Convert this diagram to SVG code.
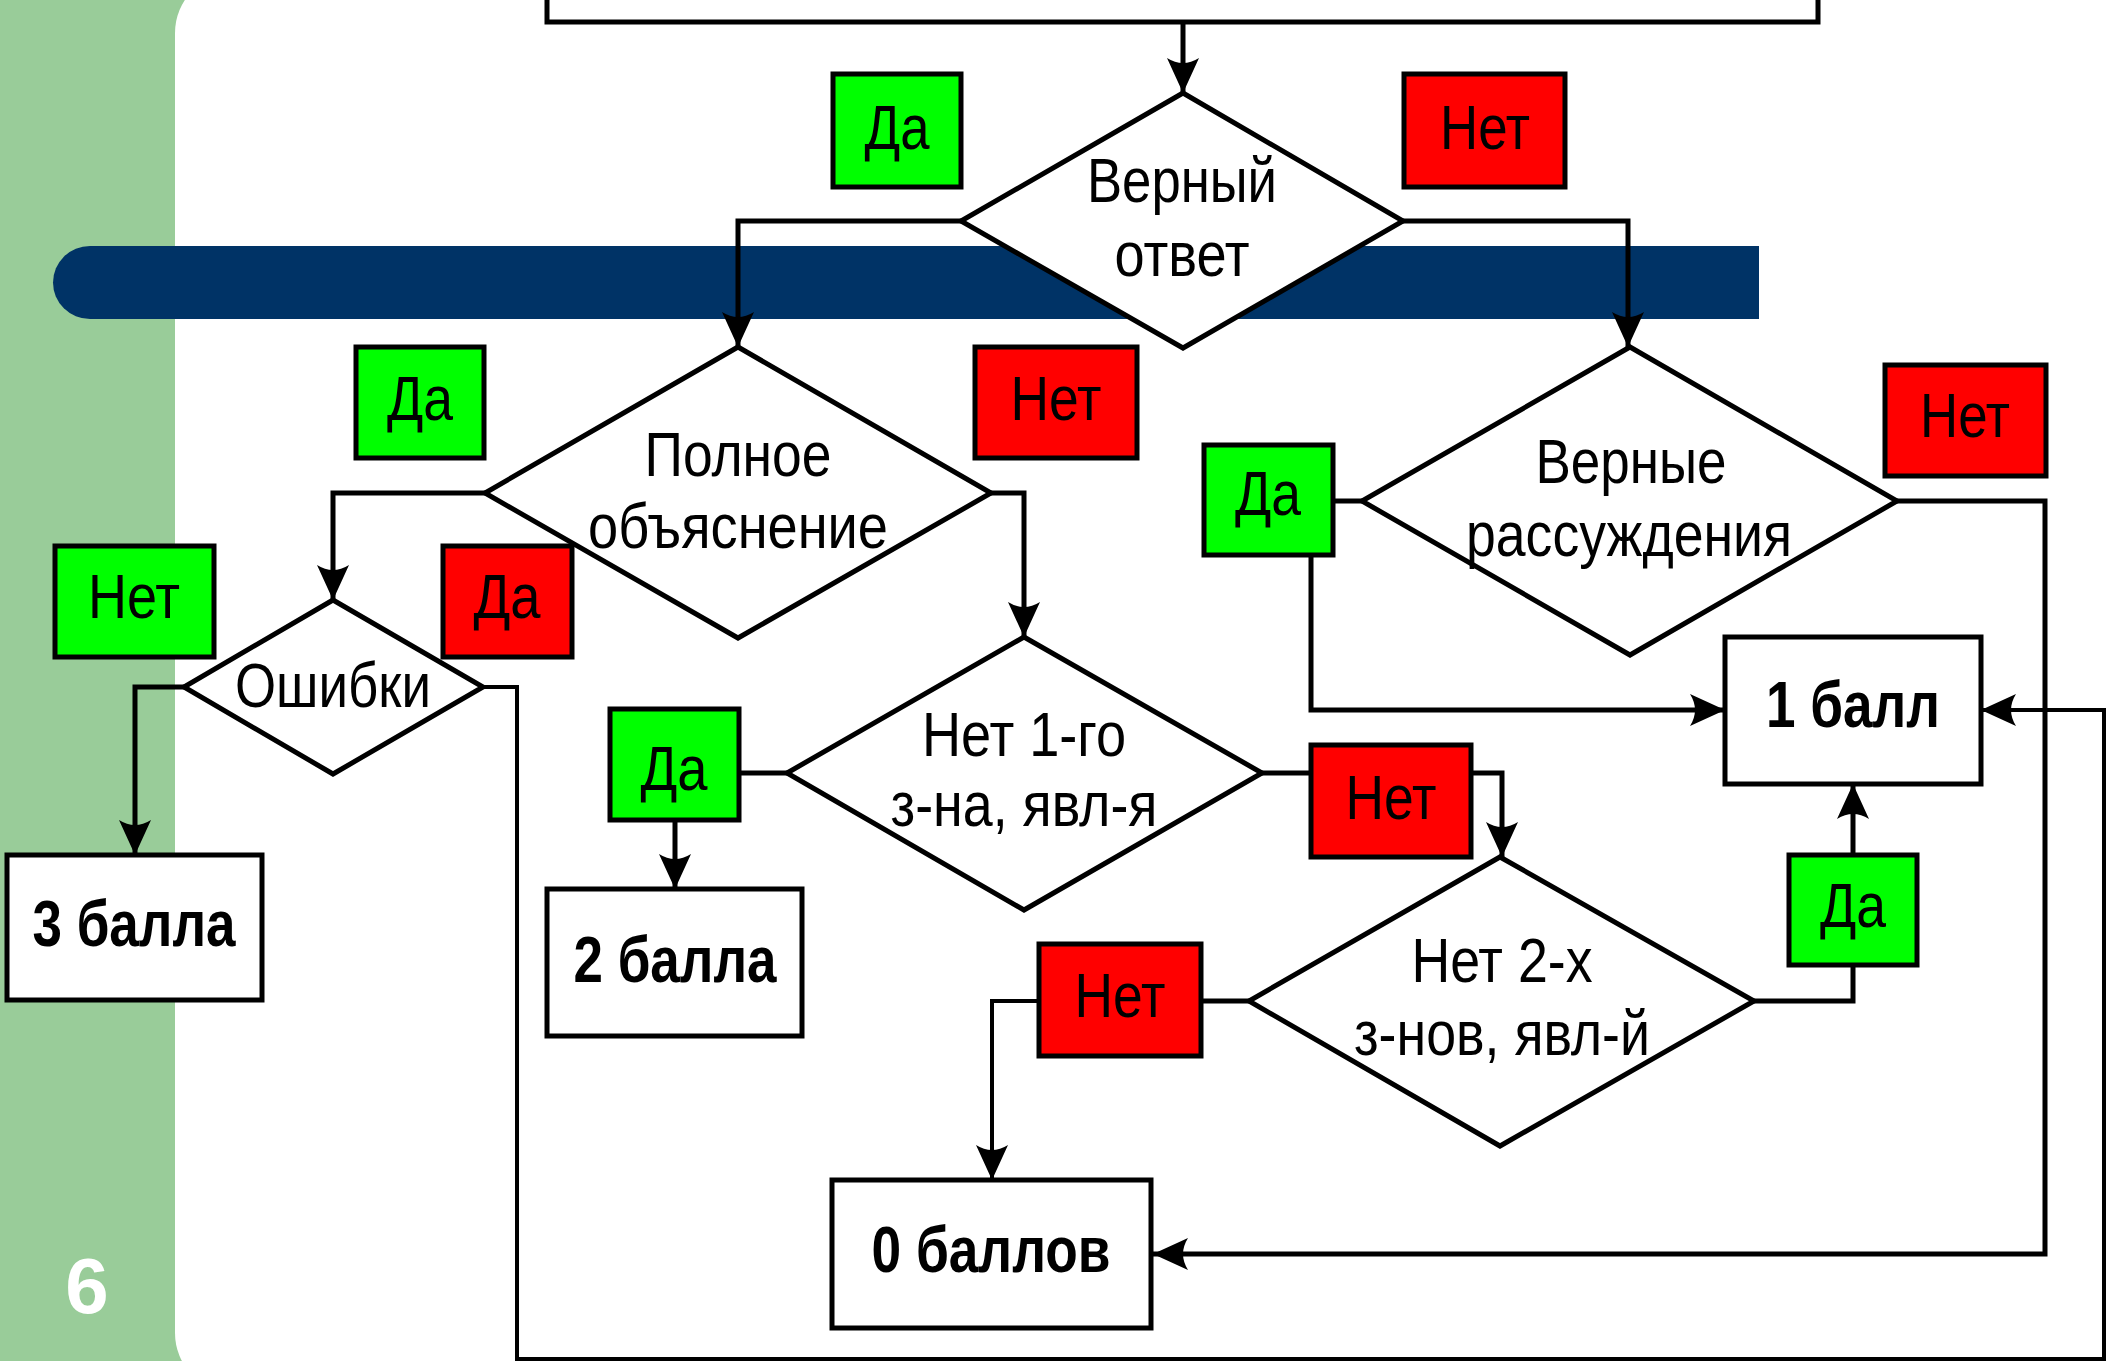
<svg xmlns="http://www.w3.org/2000/svg" width="2112" height="1361" viewBox="0 0 2112 1361">
<defs>
<style>
.t{font-family:"Liberation Sans Narrow","Liberation Sans",Arial,sans-serif;font-size:63px;text-anchor:middle;fill:#000}
.b{font-family:"Liberation Sans Narrow","Liberation Sans",Arial,sans-serif;font-size:64px;font-weight:bold;text-anchor:middle;fill:#000}
.dia{fill:#fff;stroke:#000;stroke-width:5;stroke-linejoin:miter}
.box{fill:#fff;stroke:#000;stroke-width:5}
.g{fill:#00FF00;stroke:#000;stroke-width:5}
.r{fill:#FF0000;stroke:#000;stroke-width:5}
.c{fill:none;stroke:#000;stroke-width:5}
.c2{fill:none;stroke:#000;stroke-width:4}
</style>
<marker id="ah" viewBox="-38 -19 40 38" refX="0" refY="0" markerWidth="40" markerHeight="38" markerUnits="userSpaceOnUse" orient="auto">
<path d="M0,0 L-35,-16 Q-25,0 -35,16 Z" fill="#000"/>
</marker>
</defs>
<rect x="0" y="0" width="2112" height="1361" fill="#99CC99"/>
<rect x="175" y="-27" width="2000" height="1420" rx="60" ry="60" fill="#fff"/>
<path d="M90,246 H1759 V319 H90 A37,36.5 0 0 1 90,246 Z" fill="#003366"/>
<text x="87" y="1313" font-family="Liberation Sans,Arial,sans-serif" font-size="78" font-weight="bold" fill="#fff" text-anchor="middle">6</text>

<g id="connectors">
<path class="c" d="M1183,22 V93" marker-end="url(#ah)"/>
<path class="c" d="M961,221 H738 V347" marker-end="url(#ah)"/>
<path class="c" d="M1403,221 H1628 V347" marker-end="url(#ah)"/>
<path class="c" d="M485,493 H333 V600" marker-end="url(#ah)"/>
<path class="c" d="M991,493 H1024 V637" marker-end="url(#ah)"/>
<path class="c" d="M184,687 H135 V855" marker-end="url(#ah)"/>
<path class="c2" d="M483,687 H517 V1359 H2104 V710 H1981" marker-end="url(#ah)"/>
<path class="c" d="M787,773 H739"/>
<path class="c" d="M675,820 V889" marker-end="url(#ah)"/>
<path class="c" d="M1262,773 H1311"/>
<path class="c" d="M1471,773 H1502 V857" marker-end="url(#ah)"/>
<path class="c" d="M1362,501 H1333"/>
<path class="c" d="M1311,555 V710 H1725" marker-end="url(#ah)"/>
<path class="c" d="M1897,501 H2045 V1254 H1153" marker-end="url(#ah)"/>
<path class="c" d="M1754,1001 H1853 V965"/>
<path class="c" d="M1853,855 V784" marker-end="url(#ah)"/>
<path class="c" d="M1249,1001 H1201"/>
<path class="c2" d="M1039,1001 H992 V1180" marker-end="url(#ah)"/>
</g>

<g id="top-box"><rect class="box" x="547" y="-60" width="1271" height="82"/></g>

<g id="d-verny-otvet">
<polygon class="dia" points="1183,93 1403,221 1183,348 961,221"/>
<text class="t" x="1182" y="202" textLength="190" lengthAdjust="spacingAndGlyphs">Верный</text>
<text class="t" x="1182" y="276" textLength="135" lengthAdjust="spacingAndGlyphs">ответ</text>
</g>
<g id="d-polnoe">
<polygon class="dia" points="738,347 991,493 738,638 485,493"/>
<text class="t" x="738" y="476" textLength="187" lengthAdjust="spacingAndGlyphs">Полное</text>
<text class="t" x="738" y="548" textLength="300" lengthAdjust="spacingAndGlyphs">объяснение</text>
</g>
<g id="d-oshibki">
<polygon class="dia" points="333,600 483,687 333,774 184,687"/>
<text class="t" x="333" y="707" textLength="196" lengthAdjust="spacingAndGlyphs">Ошибки</text>
</g>
<g id="d-vernye">
<polygon class="dia" points="1630,347 1897,501 1630,655 1362,501"/>
<text class="t" x="1631" y="483" textLength="191" lengthAdjust="spacingAndGlyphs">Верные</text>
<text class="t" x="1629" y="556" textLength="326" lengthAdjust="spacingAndGlyphs">рассуждения</text>
</g>
<g id="d-net1">
<polygon class="dia" points="1024,637 1262,773 1024,910 787,773"/>
<text class="t" x="1024" y="756" textLength="204" lengthAdjust="spacingAndGlyphs">Нет 1-го</text>
<text class="t" x="1024" y="826" textLength="267" lengthAdjust="spacingAndGlyphs">з-на, явл-я</text>
</g>
<g id="d-net2">
<polygon class="dia" points="1500,857 1754,1001 1500,1146 1249,1001"/>
<text class="t" x="1502" y="982" textLength="181" lengthAdjust="spacingAndGlyphs">Нет 2-х</text>
<text class="t" x="1502" y="1055" textLength="296" lengthAdjust="spacingAndGlyphs">з-нов, явл-й</text>
</g>

<g id="r-3"><rect class="box" x="7" y="855" width="255" height="145"/><text class="b" x="134" y="946" textLength="203" lengthAdjust="spacingAndGlyphs">3 балла</text></g>
<g id="r-2"><rect class="box" x="547" y="889" width="255" height="147"/><text class="b" x="675" y="982" textLength="203" lengthAdjust="spacingAndGlyphs">2 балла</text></g>
<g id="r-1"><rect class="box" x="1725" y="637" width="256" height="147"/><text class="b" x="1853" y="727" textLength="174" lengthAdjust="spacingAndGlyphs">1 балл</text></g>
<g id="r-0"><rect class="box" x="832" y="1180" width="319" height="148"/><text class="b" x="991" y="1272" textLength="239" lengthAdjust="spacingAndGlyphs">0 баллов</text></g>

<g id="l1"><rect class="g" x="833" y="74" width="128" height="113"/><text class="t" x="897" y="149" textLength="65" lengthAdjust="spacingAndGlyphs">Да</text></g>
<g id="l2"><rect class="r" x="1404" y="74" width="161" height="113"/><text class="t" x="1485" y="149" textLength="90" lengthAdjust="spacingAndGlyphs">Нет</text></g>
<g id="l3"><rect class="g" x="356" y="347" width="128" height="111"/><text class="t" x="420" y="420" textLength="66" lengthAdjust="spacingAndGlyphs">Да</text></g>
<g id="l4"><rect class="r" x="975" y="347" width="162" height="111"/><text class="t" x="1056" y="420" textLength="91" lengthAdjust="spacingAndGlyphs">Нет</text></g>
<g id="l5"><rect class="g" x="55" y="546" width="159" height="111"/><text class="t" x="134" y="618" textLength="92" lengthAdjust="spacingAndGlyphs">Нет</text></g>
<g id="l6"><rect class="r" x="443" y="546" width="129" height="111"/><text class="t" x="507" y="618" textLength="67" lengthAdjust="spacingAndGlyphs">Да</text></g>
<g id="l7"><rect class="g" x="1204" y="445" width="129" height="110"/><text class="t" x="1268" y="515" textLength="66" lengthAdjust="spacingAndGlyphs">Да</text></g>
<g id="l8"><rect class="r" x="1885" y="365" width="161" height="111"/><text class="t" x="1965" y="437" textLength="90" lengthAdjust="spacingAndGlyphs">Нет</text></g>
<g id="l9"><rect class="g" x="610" y="709" width="129" height="111"/><text class="t" x="674" y="790" textLength="67" lengthAdjust="spacingAndGlyphs">Да</text></g>
<g id="l10"><rect class="r" x="1311" y="745" width="160" height="112"/><text class="t" x="1391" y="819" textLength="91" lengthAdjust="spacingAndGlyphs">Нет</text></g>
<g id="l11"><rect class="r" x="1039" y="944" width="162" height="112"/><text class="t" x="1120" y="1017" textLength="91" lengthAdjust="spacingAndGlyphs">Нет</text></g>
<g id="l12"><rect class="g" x="1789" y="855" width="128" height="110"/><text class="t" x="1853" y="927" textLength="66" lengthAdjust="spacingAndGlyphs">Да</text></g>
</svg>
